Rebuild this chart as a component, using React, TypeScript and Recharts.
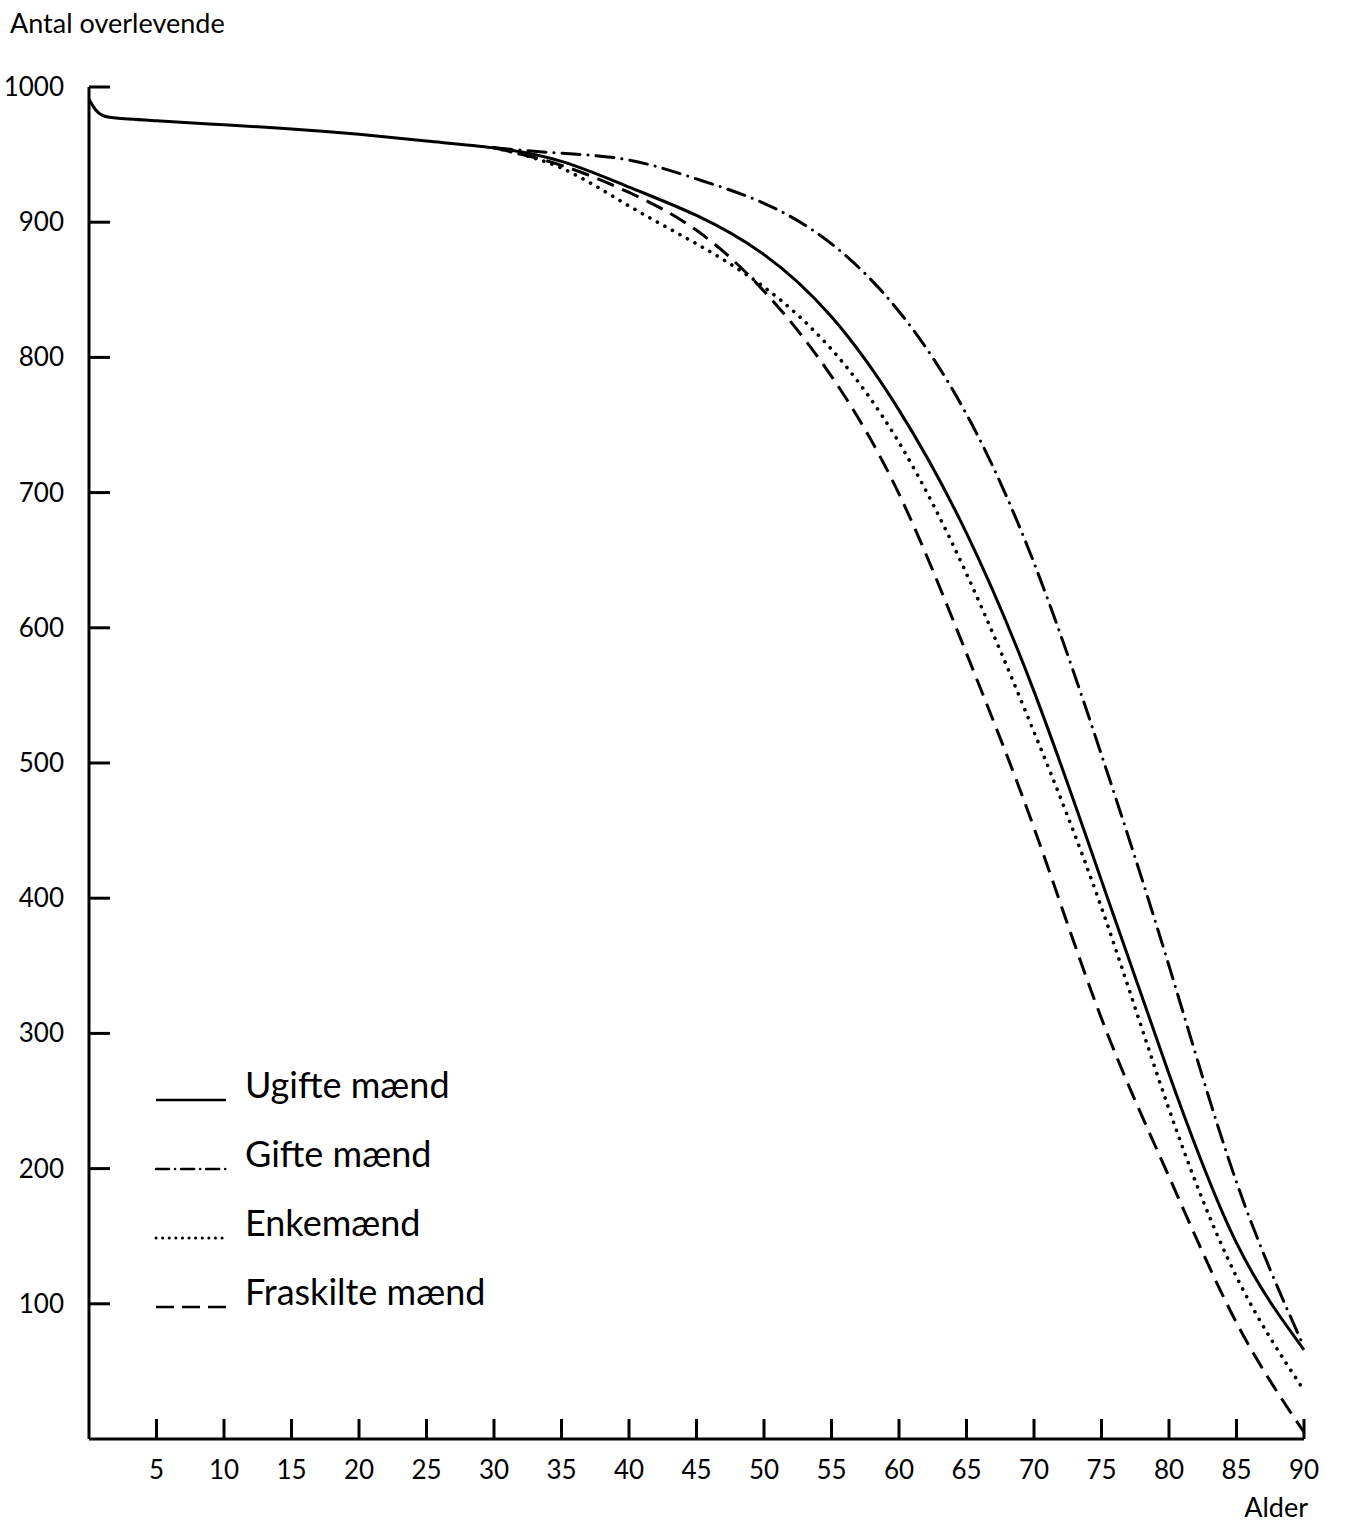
import { LineChart, Line, XAxis, YAxis, Legend, Label } from "recharts";

const ages = [0, 0.5, 1, 2, 5, 10, 15, 20, 25, 30, 35, 40, 45, 50, 55, 60, 65, 70, 75, 80, 85, 90];

const ugifte = [991, 983, 979, 977, 975, 972, 969, 965, 960, 955, 945, 926, 905, 876, 830, 761, 670, 553, 413, 270, 145, 66];
const gifte = [null, null, null, null, null, null, null, null, null, 955, 951, 946, 932, 914, 884, 834, 758, 648, 506, 350, 190, 68];
const enkemaend = [null, null, null, null, null, null, null, null, null, 955, 940, 912, 884, 852, 806, 737, 640, 523, 393, 244, 120, 36];
const fraskilte = [null, null, null, null, null, null, null, null, null, 955, 942, 922, 894, 849, 786, 699, 581, 452, 311, 194, 86, 5];

const xTicks = [5, 10, 15, 20, 25, 30, 35, 40, 45, 50, 55, 60, 65, 70, 75, 80, 85, 90];
const yTicks = [100, 200, 300, 400, 500, 600, 700, 800, 900, 1000];

const data = ages.map((a, i) => ({
  alder: a,
  ugifte: ugifte[i],
  gifte: gifte[i],
  enke: enkemaend[i],
  fraskilte: fraskilte[i],
}));

const FONT = "Lato, 'DejaVu Sans', sans-serif";

const series = [
  { key: "ugifte", name: "Ugifte mænd", dash: undefined, legendDash: undefined, width: 3 },
  { key: "gifte", name: "Gifte mænd", dash: "18 8 0.1 8", legendDash: "13 6 0.1 6", width: 3 },
  { key: "enke", name: "Enkemænd", dash: "0.1 8.5", legendDash: "0.1 6.5", width: 3.6 },
  { key: "fraskilte", name: "Fraskilte mænd", dash: "18 9", legendDash: "18 8", width: 3 },
];

const YTick = (props: any) => {
  const { x, y, payload } = props;
  const ax = x + 25;
  return (
    <g>
      <line x1={ax} x2={ax + 21} y1={y} y2={y} stroke="#000" strokeWidth={3} />
      <text x={x} y={y} dy={9} textAnchor="end" fontSize={26} fontFamily={FONT} fill="#000">
        {payload.value}
      </text>
    </g>
  );
};

const XTick = (props: any) => {
  const { x, y, payload } = props;
  const ay = y - 40;
  return (
    <g>
      <line x1={x} x2={x} y1={ay} y2={ay - 20} stroke="#000" strokeWidth={3} />
      <text x={x} y={y} textAnchor="middle" fontSize={26} fontFamily={FONT} fill="#000">
        {payload.value}
      </text>
    </g>
  );
};

const legendRows = [1098, 1167, 1236, 1305];

const renderLegend = () => (
  <div style={{ position: "relative", width: 0, height: 0 }}>
    <svg
      width={1346}
      height={1522}
      style={{ position: "absolute", left: 0, top: 0, overflow: "visible" }}
    >
      {series.map((s, i) => (
        <g key={s.key}>
          <line
            x1={156}
            x2={226}
            y1={legendRows[i] + 2}
            y2={legendRows[i] + 2}
            stroke="#000"
            strokeWidth={s.key === "enke" ? 3 : 2.5}
            strokeDasharray={s.legendDash}
            strokeLinecap={s.key === "ugifte" || s.key === "fraskilte" ? "butt" : "round"}
          />
          <text x={245} y={legendRows[i]} fontSize={36} fontFamily={FONT} fill="#000">
            {s.name}
          </text>
        </g>
      ))}
    </svg>
  </div>
);

export default function App() {
  return (
    <div style={{ position: "absolute", left: 0, top: 0, background: "#fff" }}>
      <LineChart
        width={1346}
        height={1522}
        data={data}
        margin={{ top: 87, right: 42, bottom: 23, left: 0 }}
      >
        <XAxis
          dataKey="alder"
          type="number"
          domain={[0, 90]}
          ticks={xTicks}
          interval={0}
          height={60}
          tickSize={0}
          tickMargin={40}
          tick={<XTick />}
          axisLine={{ stroke: "#000", strokeWidth: 3 }}
          tickLine={false}
        >
          <Label
            content={() => (
              <text x={1308} y={1517} textAnchor="end" fontSize={27} fontFamily={FONT} fill="#000">
                Alder
              </text>
            )}
          />
        </XAxis>
        <YAxis
          type="number"
          domain={[0, 1000]}
          ticks={yTicks}
          interval={0}
          width={89}
          tickSize={0}
          tickMargin={25}
          tick={<YTick />}
          axisLine={{ stroke: "#000", strokeWidth: 3 }}
          tickLine={false}
        >
          <Label
            content={() => (
              <text x={10} y={33} fontSize={27} fontFamily={FONT} fill="#000">
                Antal overlevende
              </text>
            )}
          />
        </YAxis>
        <Legend
          content={renderLegend}
          layout="horizontal"
          verticalAlign="middle"
          align="center"
          wrapperStyle={{ left: 0, top: 0, width: 0, height: 0 }}
        />
        {series.map((s) => (
          <Line
            key={s.key}
            dataKey={s.key}
            name={s.name}
            type="natural"
            stroke="#000"
            strokeWidth={s.width}
            strokeDasharray={s.dash}
            strokeLinecap={s.key === "enke" || s.key === "gifte" ? "round" : "butt"}
            dot={false}
            activeDot={false}
            connectNulls={false}
            isAnimationActive={false}
          />
        ))}
      </LineChart>
    </div>
  );
}
